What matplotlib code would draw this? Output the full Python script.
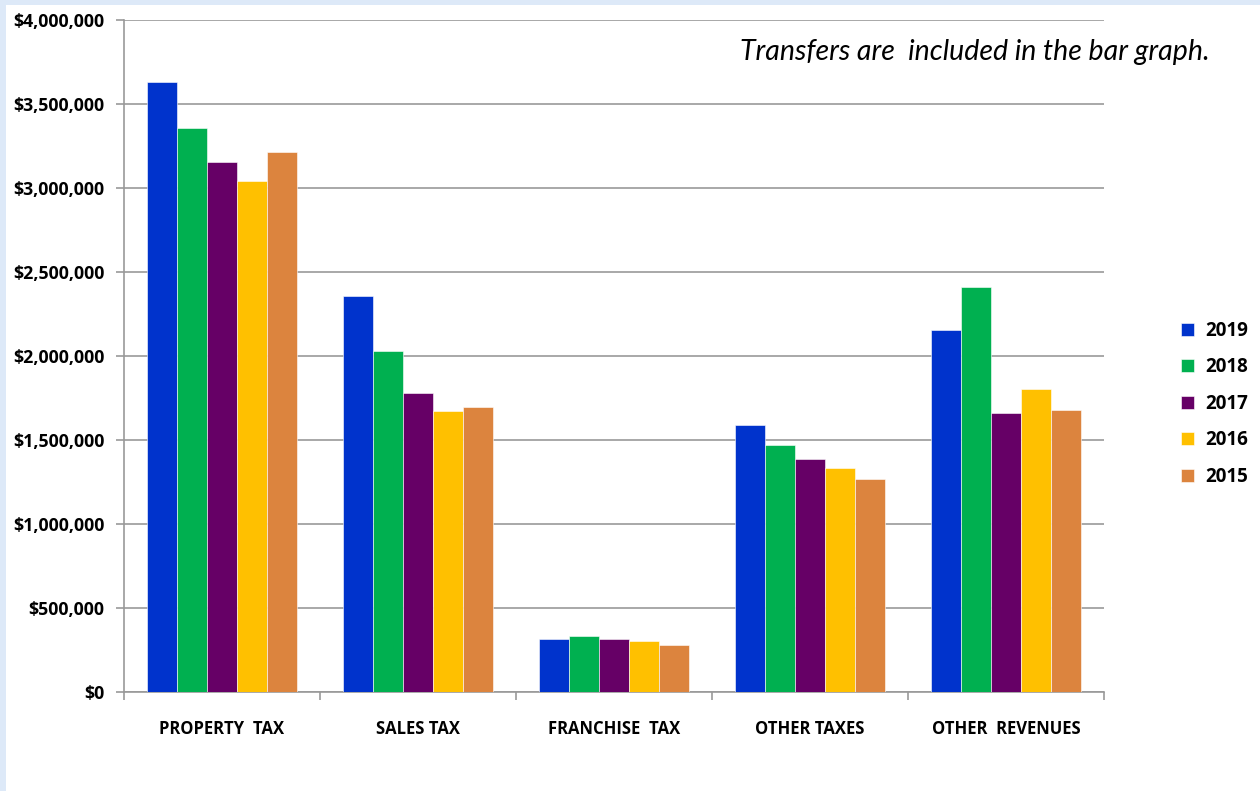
import numpy as np
import matplotlib
matplotlib.use("Agg")
import matplotlib.pyplot as plt
from matplotlib.patches import Rectangle
from matplotlib.ticker import FuncFormatter

categories = ["PROPERTY  TAX", "SALES TAX", "FRANCHISE  TAX", "OTHER TAXES", "OTHER  REVENUES"]
years = ["2019", "2018", "2017", "2016", "2015"]
colors = ["#0033cc", "#00b050", "#660066", "#ffc000", "#dc843e"]

v2019 = [3631000, 2357000, 315000, 1589000, 2155000]
v2018 = [3357000, 2030000, 333000, 1470000, 2411000]
v2017 = [3155000, 1780000, 315000, 1387000, 1661000]
v2016 = [3042000, 1673000, 304000, 1333000, 1804000]
v2015 = [3214000, 1696000, 280000, 1268000, 1679000]
series = [v2019, v2018, v2017, v2016, v2015]

plt.rcParams['font.family'] = ['Open Sans', 'DejaVu Sans']
plt.rcParams['font.weight'] = 'bold'

fig = plt.figure(figsize=(12.6, 7.91), dpi=100)
fig.patch.set_facecolor("#dde9f8")
# white page area with thin light-blue band at top and left
fig.add_artist(Rectangle((6/1260, 0), 1, 1 - 5/791, transform=fig.transFigure,
                         facecolor="white", edgecolor="none", zorder=-1))

ax = fig.add_axes([124/1260, 1 - 692/791, (1104 - 124)/1260, (692 - 20)/791])
ax.set_facecolor("white")

x = np.arange(len(categories))
w = 0.153
for i, (vals, yr, c) in enumerate(zip(series, years, colors)):
    ax.bar(x + (i - 2) * w, vals, width=w, color=c, label=yr, zorder=3,
           edgecolor="white", linewidth=0.4)

ax.set_xlim(-0.5, len(categories) - 0.5)
ax.set_ylim(0, 4000000)
ax.set_yticks(np.arange(0, 4000001, 500000))
ax.yaxis.set_major_formatter(FuncFormatter(lambda v, p: "${:,.0f}".format(v)))
ax.grid(axis="y", color="#999999", linewidth=1.2, zorder=1)

ax.set_xticks(x)
ax.set_xticklabels(categories, fontsize=12, fontweight="bold")
ax.set_xticks(np.arange(-0.5, len(categories)), minor=True)
ax.tick_params(axis="x", which="major", length=0, pad=20)
ax.tick_params(axis="x", which="minor", length=6, color="#999999", width=1.2)
ax.tick_params(axis="y", length=6, color="#999999", width=1.2, labelsize=12.8, pad=8)

for s in ["top", "right"]:
    ax.spines[s].set_visible(False)
for s in ["left", "bottom"]:
    ax.spines[s].set_color("#999999")
    ax.spines[s].set_linewidth(1.2)

fig.text(1210/1260, 1 - 52/791, "Transfers are  included in the bar graph.",
         ha="right", va="center", fontsize=20.5, style="italic", fontweight="normal",
         family=["Lato", "DejaVu Sans"])

leg = fig.legend(loc="upper left", bbox_to_anchor=(1164/1260, 1 - 304/791), frameon=False,
                 handlelength=0.7, handleheight=0.7, labelspacing=0.88,
                 handletextpad=0.6, prop={"weight": "bold", "size": 13.5})

fig.savefig("out.png", dpi=100, facecolor=fig.get_facecolor())
